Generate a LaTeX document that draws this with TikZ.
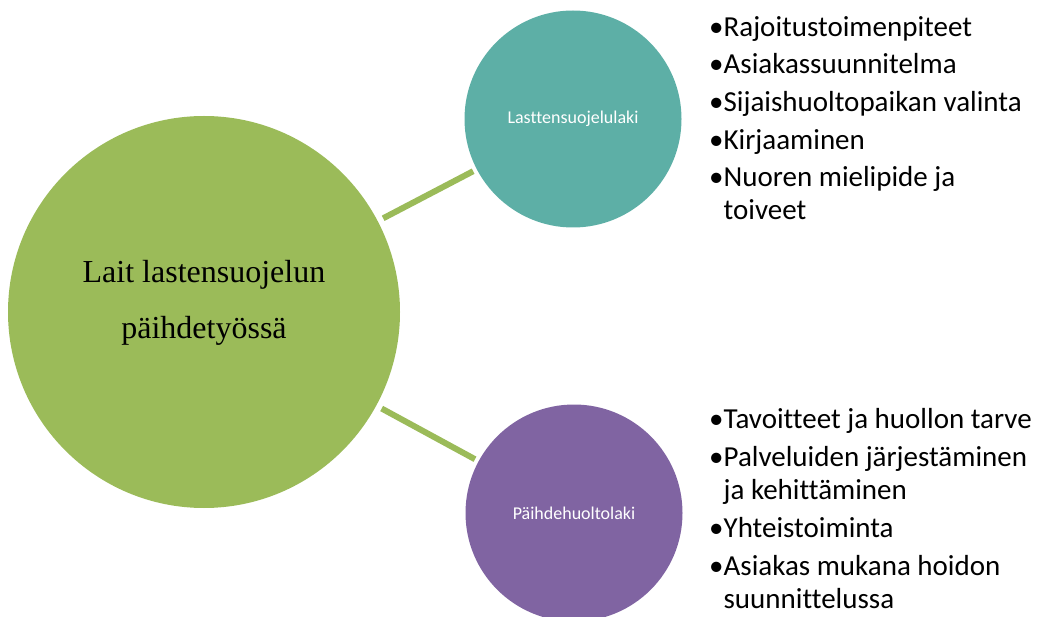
\documentclass[tikz,border=0pt]{standalone}
\usepackage{fontspec}
\setmainfont{Liberation Serif}
\newfontfamily\calibri[Ligatures=NoCommon]{Carlito}
\usetikzlibrary{positioning}

\definecolor{lawgreen}{HTML}{9BBB59}
\definecolor{lslteal}{HTML}{5DAFA6}
\definecolor{phlpurple}{HTML}{8064A2}

\tikzset{
  hub/.style={circle, fill=lawgreen, minimum size=392pt, inner sep=0pt},
  hubtext/.style={align=center, font=\fontsize{32}{56}\selectfont},
  law/.style={circle, minimum size=217pt, inner sep=0pt, text=white,
    font=\calibri\fontsize{18}{22}\selectfont},
  link/.style={draw=lawgreen, line width=6pt, shorten <=6pt, shorten >=4pt},
  lawlist/.style={align=left, anchor=base west, inner sep=0pt,
    font=\calibri\fontsize{29}{33}\selectfont}
}

\begin{document}
\begin{tikzpicture}[x=1pt, y=-1pt]
  \useasboundingbox (0,0) rectangle (1046,617);
  \clip (0,0) rectangle (1046,617);

  % circles
  \node[hub] (lait) at (204,312) {};
  \node[hubtext] (lait-text) at ([yshift=9pt]lait.center) {Lait lastensuojelun\\päihdetyössä};
  \node[law, fill=lslteal] (lsl) at (573,119) {Lasttensuojelulaki};
  \node[law, fill=phlpurple] (phl) at (574,513) {Päihdehuoltolaki};

  % connectors
  \draw[link] (lait) -- (lsl);
  \draw[link] (lait) -- (phl);

  % bullet lists (base = last line)
  \node[lawlist] (lsl-list) at (709,220) {%
    •Rajoitustoimenpiteet\\[4.7pt]
    •Asiakassuunnitelma\\[4.7pt]
    •Sijaishuoltopaikan valinta\\[4.7pt]
    •Kirjaaminen\\[4.7pt]
    •Nuoren mielipide ja\\
    \phantom{•}toiveet};
  \node[lawlist] (phl-list) at (709,608) {%
    •Tavoitteet ja huollon tarve\\[4.7pt]
    •Palveluiden järjestäminen\\
    \phantom{•}ja kehittäminen\\[4.7pt]
    •Yhteistoiminta\\[4.7pt]
    •Asiakas mukana hoidon\\
    \phantom{•}suunnittelussa};
\end{tikzpicture}
\end{document}
